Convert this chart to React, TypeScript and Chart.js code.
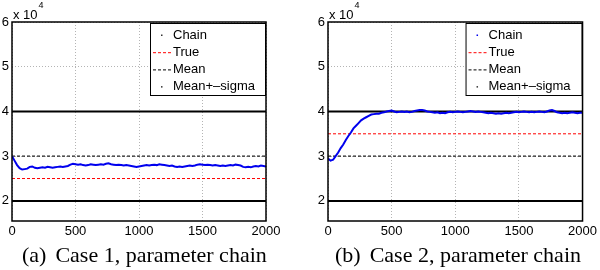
import React, { useEffect, useRef } from 'react';
import { Chart, registerables } from 'chart.js';

Chart.register(...registerables);

const iterations = [
  0, 20, 40, 60, 80, 100, 120, 140, 160, 180, 200, 220, 240, 260, 280, 300, 320, 340, 360, 380,
  400, 420, 440, 460, 480, 500, 520, 540, 560, 580, 600, 620, 640, 660, 680, 700, 720, 740, 760, 780,
  800, 820, 840, 860, 880, 900, 920, 940, 960, 980, 1000, 1020, 1040, 1060, 1080, 1100, 1120, 1140, 1160, 1180,
  1200, 1220, 1240, 1260, 1280, 1300, 1320, 1340, 1360, 1380, 1400, 1420, 1440, 1460, 1480, 1500, 1520, 1540, 1560, 1580,
  1600, 1620, 1640, 1660, 1680, 1700, 1720, 1740, 1760, 1780, 1800, 1820, 1840, 1860, 1880, 1900, 1920, 1940, 1960, 1980,
  2000,
];

const chainCase1 = [
  30000, 29000, 28000, 27300, 27000, 27100, 27200, 27600, 27700, 27400, 27300, 27400, 27500, 27400, 27600, 27500, 27400, 27500, 27600, 27700,
  27600, 27700, 27800, 28100, 28300, 28200, 28100, 28200, 28000, 27900, 28000, 28200, 28100, 28000, 28100, 28200, 28100, 28300, 28400, 28200,
  28100, 28000, 28100, 28000, 27900, 28000, 27900, 27800, 27700, 27600, 27700, 27800, 27900, 28000, 27900, 28000, 28100, 28000, 28200, 28100,
  28000, 27900, 27800, 27900, 27700, 27600, 27700, 27600, 27700, 27800, 27900, 27800, 27900, 28100, 28200, 28100, 28000, 28100, 28000, 27900,
  28000, 27900, 27800, 27900, 27800, 27900, 28000, 27900, 28100, 28000, 27900, 27600, 27500, 27600, 27500, 27700, 27800, 27700, 27900, 27800,
  27700,
];

const chainCase2 = [
  29500, 29000, 29200, 30000, 30800, 31800, 32600, 33600, 34500, 35300, 36200, 36800, 37400, 38000, 38400, 38700, 39000, 39300, 39400, 39500,
  39500, 39700, 39800, 40000, 40100, 40200, 40000, 39800, 39900, 40000, 39900, 40000, 39800, 39900, 40100, 40200, 40300, 40300, 40200, 40000,
  39900, 39800, 39700, 39800, 39600, 39700, 39600, 39800, 39900, 39800, 39900, 40000, 39900, 39800, 39900, 40000, 40100, 40000, 39900, 40000,
  39900, 39800, 39700, 39600, 39700, 39600, 39500, 39600, 39500, 39600, 39700, 39600, 39700, 39800, 39900, 39800, 39900, 40000, 39900, 39800,
  39900, 39800, 39900, 40000, 39900, 39800, 40000, 40200, 40300, 40100, 39800, 39700, 39600, 39700, 39600, 39700, 39800, 39700, 39600, 39700,
  39700,
];

const lineEnds = [0, 2000];
const trueCase1 = [25000, 25000];
const trueCase2 = [35000, 35000];
const meanLine = [30000, 30000];
const sigmaUpper = [40000, 40000];
const sigmaLower = [20000, 20000];

const yTicks = [20000, 30000, 40000, 50000, 60000];
const xTicks = [0, 500, 1000, 1500, 2000];
const legendLabels = ['Chain', 'True', 'Mean', 'Mean+\u2013sigma'];
const captions = ['(a)', 'Case 1, parameter chain', '(b)', 'Case 2, parameter chain'];

const SANS = '"Liberation Sans", Arial, sans-serif';

const pts = (xs: number[], ys: number[]) => xs.map((x, i) => ({ x, y: ys[i] }));

const framePlugin = {
  id: 'matFrame',
  afterDatasetsDraw(chart: any, _a: any, opts: any) {
    const { ctx, chartArea } = chart;
    ctx.save();
    // legend box
    const w = opts.legendWidth;
    const h = 72;
    const bx = chartArea.right - w - 1;
    const by = chartArea.top + 1;
    ctx.fillStyle = '#ffffff';
    ctx.fillRect(bx, by, w, h);
    ctx.strokeStyle = '#000';
    ctx.lineWidth = 1;
    ctx.strokeRect(bx + 0.5, by + 0.5, w, h);
    ctx.font = '13px ' + SANS;
    ctx.textBaseline = 'middle';
    ctx.fillStyle = '#000';
    const styles = [
      { type: 'dot', color: opts.chainDot },
      { type: 'dash', color: '#ff0000' },
      { type: 'dash', color: '#000000' },
      { type: 'dot', color: '#333' },
    ];
    legendLabels.forEach((label, i) => {
      const yy = by + 12 + i * 17.2;
      const s = styles[i];
      if (s.type === 'dot') {
        ctx.fillStyle = s.color;
        ctx.fillRect(bx + 11, yy - 0.5, 1.5, 1.5);
      } else {
        ctx.strokeStyle = s.color;
        ctx.lineWidth = 1;
        ctx.setLineDash([3, 2]);
        ctx.beginPath();
        ctx.moveTo(bx + 3, yy + 0.5);
        ctx.lineTo(bx + 22, yy + 0.5);
        ctx.stroke();
        ctx.setLineDash([]);
      }
      ctx.fillStyle = '#000';
      ctx.fillText(label, bx + 23, yy);
    });
    // frame
    ctx.strokeStyle = '#000';
    ctx.lineWidth = 1.5;
    ctx.strokeRect(chartArea.left, chartArea.top, chartArea.right - chartArea.left, chartArea.bottom - chartArea.top);
    // exponent label
    ctx.fillStyle = '#000';
    ctx.textBaseline = 'alphabetic';
    ctx.font = '13px ' + SANS;
    ctx.fillText('x 10', chartArea.left + 1, chartArea.top - 3);
    const wx = ctx.measureText('x 10').width;
    ctx.font = '9px ' + SANS;
    ctx.fillText('4', chartArea.left + 2 + wx, chartArea.top - 14);
    ctx.restore();
  },
};

function makeConfig(chain: number[], trueVals: number[], yAxisWidth: number, padRight: number, legendWidth: number, chainDot: string): any {
  return {
    type: 'line',
    data: {
      datasets: [
        { label: 'Chain', data: pts(iterations, chain), borderColor: '#0000ee', borderWidth: 2, pointRadius: 0, tension: 0 },
        { label: 'True', data: pts(lineEnds, trueVals), borderColor: '#ff0000', borderWidth: 1, borderDash: [3, 2], pointRadius: 0 },
        { label: 'Mean', data: pts(lineEnds, meanLine), borderColor: '#222222', borderWidth: 1.2, borderDash: [3, 2], pointRadius: 0 },
        { label: 'Mean+-sigma', data: pts(lineEnds, sigmaUpper), borderColor: '#000000', borderWidth: 2, pointRadius: 0 },
        { label: 'Mean-sigma', data: pts(lineEnds, sigmaLower), borderColor: '#000000', borderWidth: 2, pointRadius: 0 },
      ],
    },
    options: {
      animation: false,
      responsive: false,
      devicePixelRatio: 1,
      layout: { padding: { top: 22, right: padRight, left: 0, bottom: 0 } },
      plugins: {
        legend: { display: false },
        tooltip: { enabled: false },
        matFrame: { legendWidth, chainDot },
      },
      scales: {
        x: {
          type: 'linear',
          min: 0,
          max: 2000,
          afterBuildTicks: (s: any) => { s.ticks = xTicks.map((v) => ({ value: v })); },
          afterFit: (s: any) => { s.height = 24; },
          ticks: { color: '#000', font: { family: SANS, size: 13 }, padding: 3, maxRotation: 0, autoSkip: false, callback: (v: number) => String(v) },
          grid: { color: '#b4b4b4', lineWidth: 1, drawTicks: false },
          border: { display: false, dash: [1, 2] },
        },
        y: {
          type: 'linear',
          min: 15500,
          max: 60000,
          afterBuildTicks: (s: any) => { s.ticks = yTicks.map((v) => ({ value: v })); },
          afterFit: (s: any) => { s.width = yAxisWidth; },
          ticks: { color: '#000', font: { family: SANS, size: 13 }, padding: 3, callback: (v: number) => String(v / 10000) },
          grid: { color: '#b4b4b4', lineWidth: 1, drawTicks: false },
          border: { display: false, dash: [1, 2] },
        },
      },
    },
    plugins: [framePlugin],
  };
}

function Panel({ left, chain, trueVals, yAxisWidth, padRight, legendWidth, chainDot }: any) {
  const ref = useRef<HTMLCanvasElement | null>(null);
  useEffect(() => {
    if (!ref.current) return;
    const chart = new Chart(ref.current, makeConfig(chain, trueVals, yAxisWidth, padRight, legendWidth, chainDot));
    return () => chart.destroy();
  }, []);
  return (
    <div style={{ position: 'absolute', left, top: 0, width: 300, height: 245 }}>
      <canvas ref={ref} width={300} height={245} style={{ width: 300, height: 245, display: 'block' }} />
    </div>
  );
}

const captionStyle: React.CSSProperties = {
  position: 'absolute',
  top: 244,
  fontFamily: '"Liberation Serif", "Times New Roman", serif',
  fontSize: 22,
  lineHeight: '22px',
  whiteSpace: 'pre',
  color: '#000',
};

export default function App() {
  return (
    <div style={{ position: 'fixed', left: 0, top: 0, width: 600, height: 270, background: '#fff', overflow: 'hidden' }}>
      <Panel left={0} chain={chainCase1} trueVals={trueCase1} yAxisWidth={12} padRight={34} legendWidth={115} chainDot="#333" />
      <Panel left={300} chain={chainCase2} trueVals={trueCase2} yAxisWidth={28} padRight={17} legendWidth={116} chainDot="#0000ee" />
      <div style={{ ...captionStyle, left: 22 }}>
        <span style={{ marginRight: 9 }}>{captions[0]}</span>{captions[1]}
      </div>
      <div style={{ ...captionStyle, left: 335 }}>
        <span style={{ marginRight: 9 }}>{captions[2]}</span>{captions[3]}
      </div>
    </div>
  );
}
